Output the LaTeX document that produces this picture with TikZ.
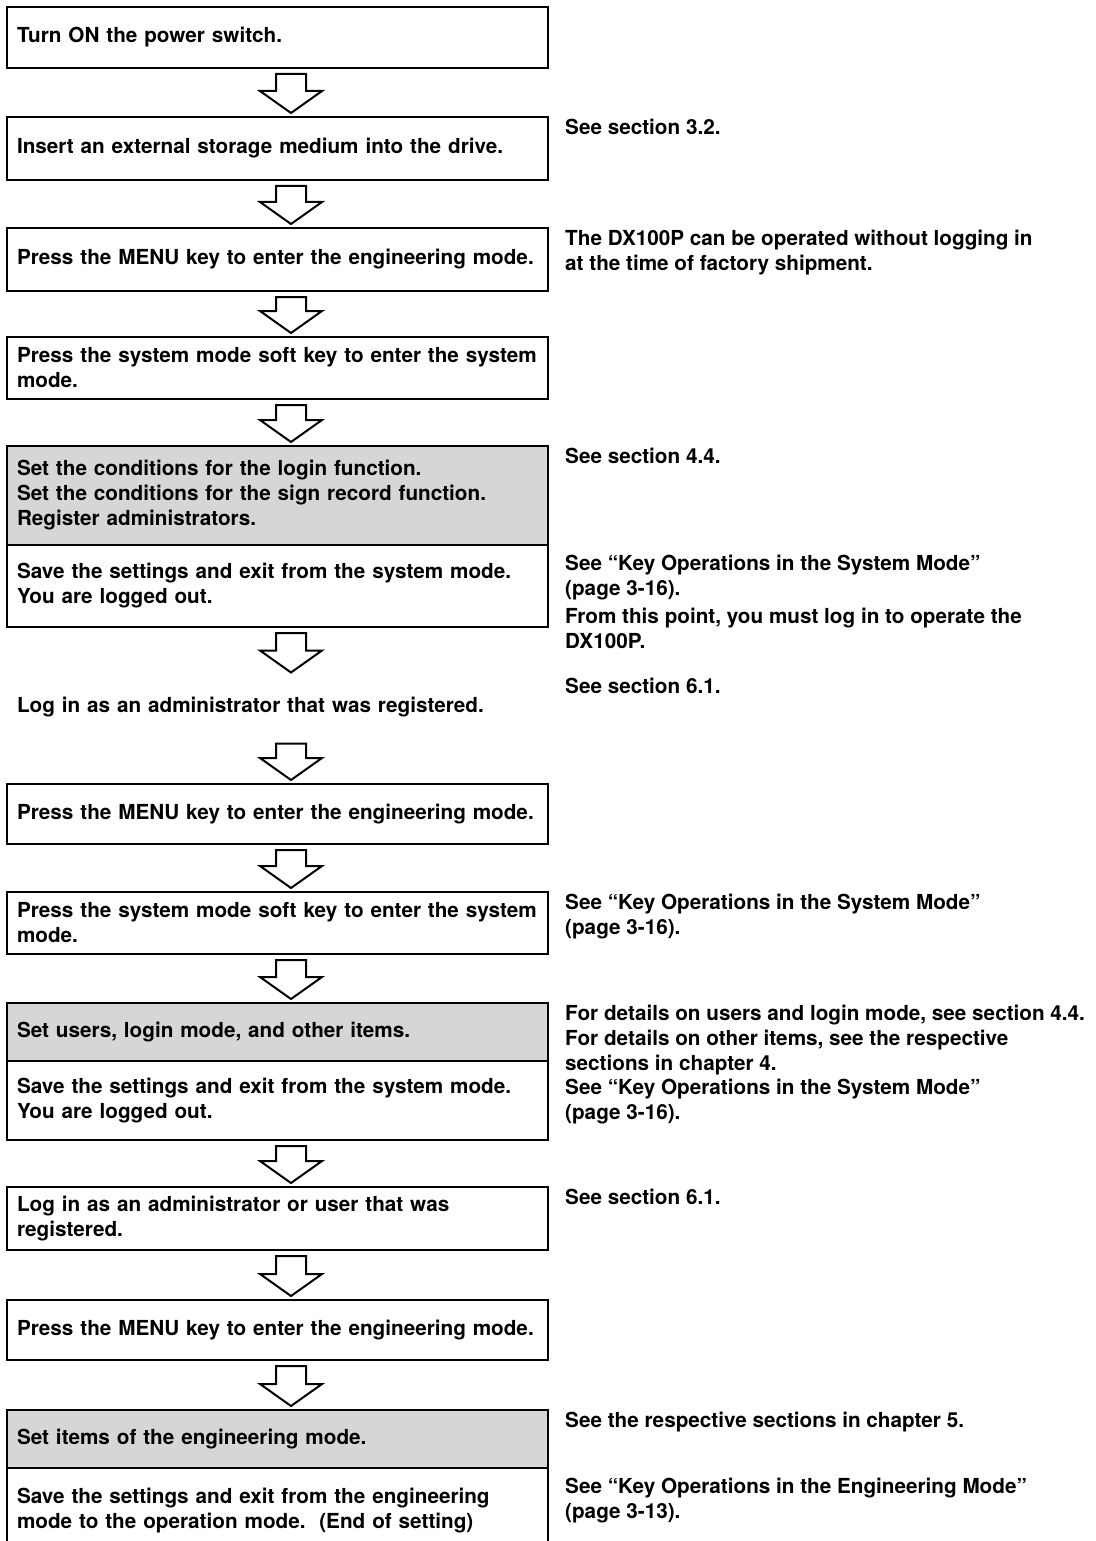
\documentclass[tikz,border=0pt]{standalone}
\usepackage{fontspec}
\setmainfont{TeX Gyre Heros}
\usetikzlibrary{calc,positioning}
\hyphenpenalty=10000
\exhyphenpenalty=10000

\tikzset{
  txt/.style={font=\fontsize{20.7}{25}\selectfont\bfseries},
  box/.style={txt, draw=black, line width=2pt, outer sep=0pt, inner xsep=10pt,
    inner ysep=0pt, text width=521pt, align=left},
  shadebox/.style={box, fill=black!16},
  plain/.style={box, draw=none},
  note/.style={txt, anchor=north west, inner sep=0pt, align=left},
  hollow/.style={draw=black, line width=2pt, fill=white, line join=miter,
    to path={let \p1=(\tikztostart), \p2=(\tikztotarget) in
      (\x1-15pt,\y1-6pt) -- (\x1+15pt,\y1-6pt) -- (\x1+15pt,\y2+26pt)
      -- (\x1+31pt,\y2+26pt) -- (\x1,\y2+4pt) -- (\x1-31pt,\y2+26pt)
      -- (\x1-15pt,\y2+26pt) -- cycle}}
}

\begin{document}
\begin{tikzpicture}[x=1pt, y=-1pt]
    \useasboundingbox (0,0) rectangle (1095,1541);

    % steps on the left
    \node[box, minimum height=61pt] (b1) at (277.5,37.5) {Turn ON the power switch.};
    \node[box, minimum height=63pt] (b2) at (277.5,148.5) {Insert an external storage medium into the drive.};
    \node[box, minimum height=63pt] (b3) at (277.5,259.5) {Press the MENU key to enter the engineering mode.};
    \node[box, minimum height=62pt] (b4) at (277.5,368) {Press the system mode soft key to enter the system\\mode.};

    \node[shadebox, minimum height=99pt] (b5a) at (277.5,495.5) {Set the conditions for the login function.\\Set the conditions for the sign record function.\\Register administrators.};
    \node[box, minimum height=82pt, below=0pt of b5a] (b5b) {Save the settings and exit from the system mode.\\You are logged out.};

    \node[plain, minimum height=61pt] (login) at (277.5,707) {Log in as an administrator that was registered.};

    \node[box, minimum height=60pt] (b7) at (277.5,814) {Press the MENU key to enter the engineering mode.};
    \node[box, minimum height=62pt] (b8) at (277.5,923) {Press the system mode soft key to enter the system\\mode.};

    \node[shadebox, minimum height=58pt] (b9a) at (277.5,1032) {Set users, login mode, and other items.};
    \node[box, minimum height=79pt, below=0pt of b9a] (b9b) {Save the settings and exit from the system mode.\\You are logged out.};

    \node[box, minimum height=63pt] (b10) at (277.5,1218.5) {Log in as an administrator or user that was\\registered.};
    \node[box, minimum height=60pt] (b11) at (277.5,1330) {Press the MENU key to enter the engineering mode.};

    \node[shadebox, minimum height=58pt] (b12a) at (277.5,1439) {Set items of the engineering mode.};
    % last box runs off the page, no bottom line
    \node[plain, minimum height=86pt, below=0pt of b12a] (b12b) {Save the settings and exit from the engineering\\mode to the operation mode.\ \ (End of setting)};
    \draw[line width=2pt] (b12b.north west) -- (b12b.south west);
    \draw[line width=2pt] (b12b.north east) -- (b12b.south east);

    % hollow arrows, a little right of the box centre
    \draw[hollow] ([xshift=13.5pt]b1.south) to ([xshift=13.5pt]b2.north);
    \draw[hollow] ([xshift=13.5pt]b2.south) to ([xshift=13.5pt]b3.north);
    \draw[hollow] ([xshift=13.5pt]b3.south) to ([xshift=13.5pt]b4.north);
    \draw[hollow] ([xshift=13.5pt]b4.south) to ([xshift=13.5pt]b5a.north);
    \draw[hollow] ([xshift=13.5pt]b5b.south) to ([xshift=13.5pt]login.north);
    \draw[hollow] ([xshift=13.5pt]login.south) to ([xshift=13.5pt]b7.north);
    \draw[hollow] ([xshift=13.5pt]b7.south) to ([xshift=13.5pt]b8.north);
    \draw[hollow] ([xshift=13.5pt]b8.south) to ([xshift=13.5pt]b9a.north);
    \draw[hollow] ([xshift=13.5pt]b9b.south) to ([xshift=13.5pt]b10.north);
    \draw[hollow] ([xshift=13.5pt]b10.south) to ([xshift=13.5pt]b11.north);
    \draw[hollow] ([xshift=13.5pt]b11.south) to ([xshift=13.5pt]b12a.north);

    % notes on the right
    \node[note] (n2) at (565,119) {See section 3.2.};
    \node[note] (n3) at (565,230) {The DX100P can be operated without logging in\\at the time of factory shipment.};
    \node[note] (n5a) at (565,448) {See section 4.4.};
    \node[note] (n5b) at (565,555) {See “Key Operations in the System Mode”\\(page 3-16).\\[3pt]From this point, you must log in to operate the\\DX100P.};
    \node[note] (n6) at (565,678) {See section 6.1.};
    \node[note] (n8) at (565,894) {See “Key Operations in the System Mode”\\(page 3-16).};
    \node[note] (n9a) at (565,1005) {For details on users and login mode, see section 4.4.\\For details on other items, see the respective\\sections in chapter 4.};
    \node[note, below=4pt of n9a.south west, anchor=north west] (n9b) {See “Key Operations in the System Mode”\\(page 3-16).};
    \node[note] (n10) at (565,1189) {See section 6.1.};
    \node[note] (n12a) at (565,1412) {See the respective sections in chapter 5.};
    \node[note] (n12b) at (565,1478) {See “Key Operations in the Engineering Mode”\\(page 3-13).};
\end{tikzpicture}
\end{document}
